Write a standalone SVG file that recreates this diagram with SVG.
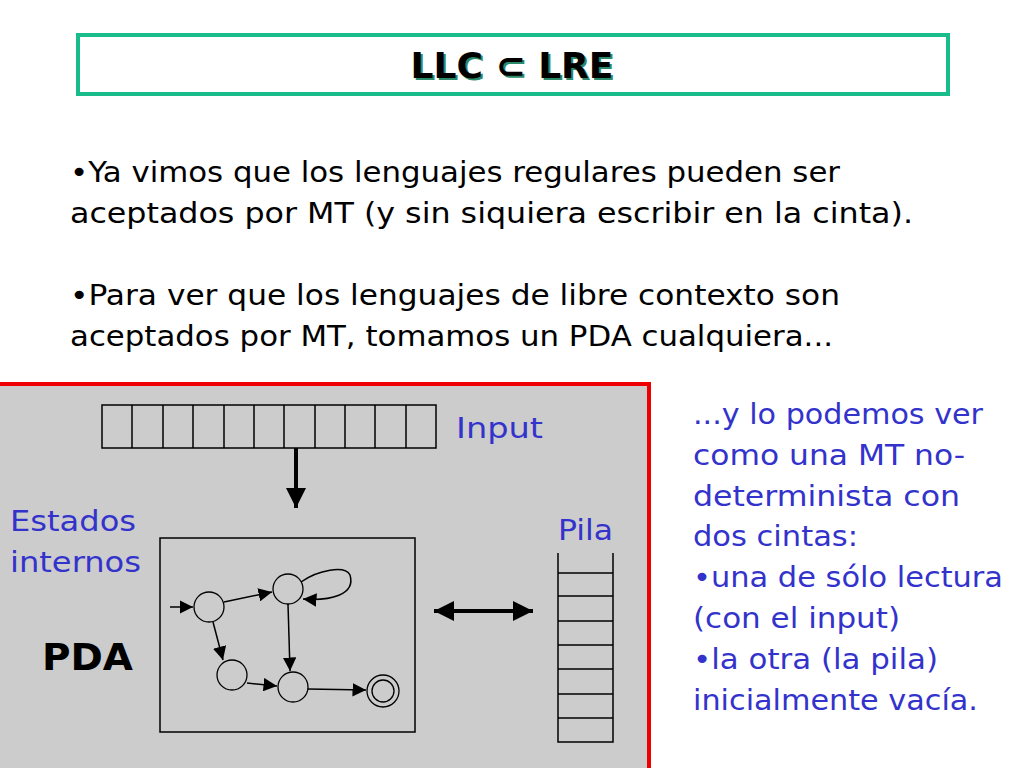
<svg xmlns="http://www.w3.org/2000/svg" width="1024" height="768" viewBox="0 0 1024 768">
<style>
.t{font-family:"DejaVu Sans","Liberation Sans",sans-serif;font-size:29px;fill:#000}
.b{font-family:"DejaVu Sans","Liberation Sans",sans-serif;font-size:29px;fill:#3333cc}
.ln{stroke:#000;stroke-width:1.5;fill:none}
.st{stroke:#000;stroke-width:1.3;fill:#ccc}
</style>
<defs>
<marker id="a" viewBox="0 0 10 10" refX="10" refY="5" markerWidth="9" markerHeight="9" orient="auto"><path d="M0,0L10,5L0,10z" fill="#000"/></marker>
<marker id="big" viewBox="0 0 10 10" refX="10" refY="5" markerWidth="5" markerHeight="5" orient="auto-start-reverse"><path d="M0,0L10,5L0,10z" fill="#000"/></marker>
</defs>
<rect width="1024" height="768" fill="#fff"/>
<g id="title">
<rect x="78" y="35" width="870" height="59" fill="#fff" stroke="#1abc8c" stroke-width="4"/>
<text x="514" y="80" text-anchor="middle" font-family="DejaVu Sans,sans-serif" font-weight="bold" font-size="36" fill="#2a8a6a">LLC ⊂ LRE</text>
<text x="512" y="78" text-anchor="middle" font-family="DejaVu Sans,sans-serif" font-weight="bold" font-size="36" fill="#000">LLC ⊂ LRE</text>
</g>
<g id="intro">
<text class="t" x="70" y="182" textLength="770" lengthAdjust="spacingAndGlyphs">•Ya vimos que los lenguajes regulares pueden ser</text>
<text class="t" x="70" y="223" textLength="843" lengthAdjust="spacingAndGlyphs">aceptados por MT (y sin siquiera escribir en la cinta).</text>
<text class="t" x="70" y="305" textLength="770" lengthAdjust="spacingAndGlyphs">•Para ver que los lenguajes de libre contexto son</text>
<text class="t" x="70" y="346" textLength="763" lengthAdjust="spacingAndGlyphs">aceptados por MT, tomamos un PDA cualquiera...</text>
</g>
<g id="panel">
<rect x="0" y="383" width="649" height="390" fill="#ccc"/>
<path d="M0,384H649V768" fill="none" stroke="#e00" stroke-width="4"/>
</g>
<g id="tape">
<rect x="102" y="405" width="334" height="43" class="ln"/>
<path class="ln" d="M132,405V448M163,405V448M193,405V448M224,405V448M254,405V448M284,405V448M315,405V448M345,405V448M375,405V448M406,405V448"/>
<text class="b" x="456" y="438" textLength="87" lengthAdjust="spacingAndGlyphs">Input</text>
</g>
<g id="stack">
<path class="ln" d="M558,553V742H613V553M558,573H613M558,596H613M558,621H613M558,645H613M558,669H613M558,694H613M558,718H613"/>
<text class="b" x="558" y="540" textLength="55" lengthAdjust="spacingAndGlyphs">Pila</text>
</g>
<g id="pda">
<rect x="160" y="538" width="255" height="194" class="ln"/>
<text class="b" x="10" y="531" textLength="126" lengthAdjust="spacingAndGlyphs">Estados</text>
<text class="b" x="10" y="572" textLength="131" lengthAdjust="spacingAndGlyphs">internos</text>
<text x="42" y="670" font-family="DejaVu Sans,sans-serif" font-weight="bold" font-size="38" textLength="91" lengthAdjust="spacingAndGlyphs">PDA</text>
<circle cx="209" cy="607" r="15" class="st"/>
<circle cx="288" cy="589" r="15" class="st"/>
<circle cx="232" cy="675" r="15" class="st"/>
<circle cx="293" cy="687" r="15" class="st"/>
<circle cx="383" cy="691" r="16" class="st"/>
<circle cx="383" cy="691" r="11" class="st"/>
</g>
<g id="connectors">
<line x1="296" y1="448" x2="296" y2="508" stroke="#000" stroke-width="4" marker-end="url(#big)"/>
<line x1="434" y1="611" x2="533" y2="611" stroke="#000" stroke-width="4" marker-start="url(#big)" marker-end="url(#big)"/>
<g class="ln" stroke-width="1.3">
<line x1="170" y1="607" x2="193" y2="607" marker-end="url(#a)"/>
<line x1="224" y1="602" x2="272" y2="592" marker-end="url(#a)"/>
<path d="M301,582C318,570 345,565 350,575C356,595 330,601 303,599" marker-end="url(#a)"/>
<line x1="288" y1="604" x2="290" y2="671" marker-end="url(#a)"/>
<line x1="213" y1="622" x2="223" y2="660" marker-end="url(#a)"/>
<line x1="247" y1="683" x2="277" y2="686" marker-end="url(#a)"/>
<line x1="308" y1="689" x2="366" y2="690" marker-end="url(#a)"/>
</g>
</g>
<g id="right">
<text class="b" x="693" y="424" textLength="290" lengthAdjust="spacingAndGlyphs">...y lo podemos ver</text>
<text class="b" x="693" y="465" textLength="272" lengthAdjust="spacingAndGlyphs">como una MT no-</text>
<text class="b" x="693" y="506" textLength="267" lengthAdjust="spacingAndGlyphs">determinista con</text>
<text class="b" x="693" y="546" textLength="165" lengthAdjust="spacingAndGlyphs">dos cintas:</text>
<text class="b" x="693" y="587" textLength="310" lengthAdjust="spacingAndGlyphs">•una de sólo lectura</text>
<text class="b" x="693" y="628" textLength="207" lengthAdjust="spacingAndGlyphs">(con el input)</text>
<text class="b" x="693" y="669" textLength="245" lengthAdjust="spacingAndGlyphs">•la otra (la pila)</text>
<text class="b" x="693" y="710" textLength="285" lengthAdjust="spacingAndGlyphs">inicialmente vacía.</text>
</g>
</svg>
